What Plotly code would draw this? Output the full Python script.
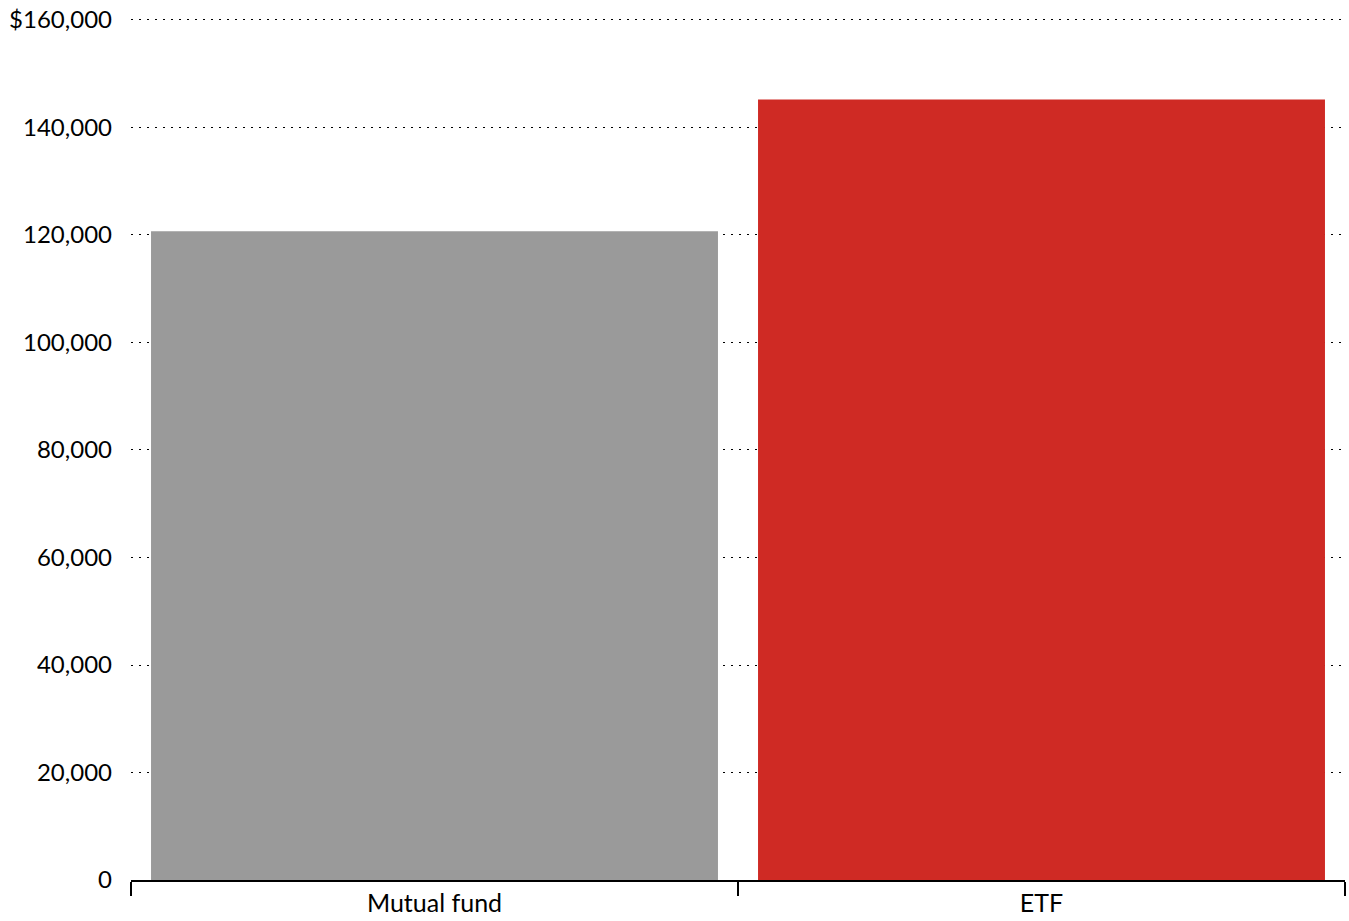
import plotly.graph_objects as go

categories = ["Mutual fund", "ETF"]
values = [120700, 145200]
bar_colors = ["#9a9a9a", "#cf2a24"]
y_tick_values = [0, 20000, 40000, 60000, 80000, 100000, 120000, 140000, 160000]
y_tick_labels = ["0", "20,000", "40,000", "60,000", "80,000", "100,000", "120,000", "140,000", "$160,000"]

# top of the value axis sits just above the last tick so its gridline is drawn
y_max = 160000 * 866 / 863

fig = go.Figure(
    go.Bar(
        x=categories,
        y=values,
        marker=dict(color=bar_colors, line=dict(width=0)),
        hoverinfo="skip",
    )
)

fig.update_layout(
    width=1349,
    height=921,
    margin=dict(l=131, r=4, t=16, b=39),
    paper_bgcolor="white",
    plot_bgcolor="white",
    bargap=0.066,
    showlegend=False,
    font=dict(family="Lato", size=24, color="black"),
)

fig.update_xaxes(
    type="category",
    tickson="boundaries",
    ticks="outside",
    ticklen=14,
    tickwidth=2,
    tickcolor="black",
    showline=True,
    linecolor="black",
    linewidth=2,
    showgrid=False,
    tickfont=dict(size=25),
)

fig.update_yaxes(
    range=[0, y_max],
    tickvals=y_tick_values,
    ticktext=y_tick_labels,
    showgrid=True,
    gridcolor="black",
    gridwidth=1.2,
    griddash="2px,6px",
    zeroline=False,
    showline=False,
    ticks="",
    ticklabelstandoff=18,
)

fig.write_html("out.html")
